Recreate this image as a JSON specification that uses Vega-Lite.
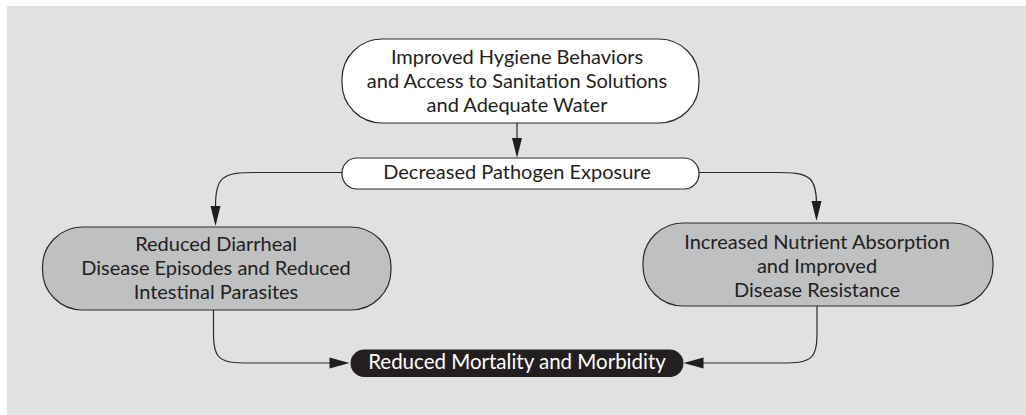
{
  "$schema": "https://vega.github.io/schema/vega-lite/v6.json",
  "width": 1026,
  "height": 415,
  "padding": 0,
  "autosize": {"type": "none"},
  "background": "#ffffff",
  "config": {"view": {"stroke": null}},
  "datasets": {
    "frame": [{"x": 0.7, "x2": 102.6, "y": 0.6, "y2": 41.5}],
    "nodes": [
      {"id": "top", "x": 34.2, "x2": 69.9, "y": 3.9, "y2": 12.3, "cx": 51.7, "cy": 5.75, "label": ["Improved Hygiene Behaviors", "and Access to Sanitation Solutions", "and Adequate Water"]},
      {"id": "mid", "x": 34.2, "x2": 69.9, "y": 15.8, "y2": 18.9, "cx": 51.7, "cy": 17.25, "label": ["Decreased Pathogen Exposure"]},
      {"id": "left", "x": 4.25, "x2": 39.1, "y": 22.7, "y2": 31.0, "cx": 21.6, "cy": 24.45, "label": ["Reduced Diarrheal", "Disease Episodes and Reduced", "Intestinal Parasites"]},
      {"id": "right", "x": 64.3, "x2": 99.3, "y": 22.3, "y2": 30.6, "cx": 81.7, "cy": 24.3, "label": ["Increased Nutrient Absorption", "and Improved", "Disease Resistance"]},
      {"id": "bottom", "x": 35.1, "x2": 68.3, "y": 35.0, "y2": 37.65, "cx": 51.7, "cy": 36.25, "label": ["Reduced Mortality and Morbidity"]}
    ],
    "edges": [
      {"edge": "a", "i": 0, "x": 51.7, "y": 12.3},
      {"edge": "a", "i": 1, "x": 51.7, "y": 14.0},
      {"edge": "b", "i": 0, "x": 34.2, "y": 17.25},
      {"edge": "b", "i": 1, "x": 29.55, "y": 17.25},
      {"edge": "b", "i": 2, "x": 25.55, "y": 17.25},
      {"edge": "b", "i": 3, "x": 21.55, "y": 17.25},
      {"edge": "b", "i": 4, "x": 21.55, "y": 21.25},
      {"edge": "c", "i": 0, "x": 69.9, "y": 17.25},
      {"edge": "c", "i": 1, "x": 73.65, "y": 17.25},
      {"edge": "c", "i": 2, "x": 77.65, "y": 17.25},
      {"edge": "c", "i": 3, "x": 81.65, "y": 17.25},
      {"edge": "c", "i": 4, "x": 81.65, "y": 21.0},
      {"edge": "d", "i": 0, "x": 21.35, "y": 31.0},
      {"edge": "d", "i": 1, "x": 21.35, "y": 32.8},
      {"edge": "d", "i": 2, "x": 21.35, "y": 36.3},
      {"edge": "d", "i": 3, "x": 24.85, "y": 36.3},
      {"edge": "d", "i": 4, "x": 28.35, "y": 36.3},
      {"edge": "d", "i": 5, "x": 33.2, "y": 36.3},
      {"edge": "e", "i": 0, "x": 81.7, "y": 30.6},
      {"edge": "e", "i": 1, "x": 81.7, "y": 32.8},
      {"edge": "e", "i": 2, "x": 81.7, "y": 36.3},
      {"edge": "e", "i": 3, "x": 78.2, "y": 36.3},
      {"edge": "e", "i": 4, "x": 74.7, "y": 36.3},
      {"edge": "e", "i": 5, "x": 70.0, "y": 36.3}
    ],
    "arrows": [
      {"dir": "down", "x": 51.7, "y": 14.8},
      {"dir": "down", "x": 21.55, "y": 21.6},
      {"dir": "down", "x": 81.65, "y": 21.1},
      {"dir": "right", "x": 33.95, "y": 36.3},
      {"dir": "left", "x": 69.35, "y": 36.3}
    ]
  },
  "encoding": {
    "x": {"field": "x", "type": "quantitative", "axis": null, "scale": {"domain": [0, 102.6], "range": [0, 1026], "zero": false, "nice": false}},
    "y": {"field": "y", "type": "quantitative", "axis": null, "scale": {"domain": [0, 41.5], "range": [0, 415], "zero": false, "nice": false}}
  },
  "layer": [
    {
      "data": {"name": "frame"},
      "mark": {"type": "rect", "fill": "#e0e1e3", "stroke": null},
      "encoding": {"x2": {"field": "x2"}, "y2": {"field": "y2"}}
    },
    {
      "data": {"name": "edges"},
      "mark": {"type": "line", "interpolate": "basis", "stroke": "#2a2a2a", "strokeWidth": 1.2},
      "encoding": {"detail": {"field": "edge"}, "order": {"field": "i", "type": "quantitative"}}
    },
    {
      "data": {"name": "arrows"},
      "mark": {"type": "point", "filled": true, "fill": "#1f1d1e", "stroke": null, "opacity": 1, "size": 400},
      "encoding": {
        "shape": {"field": "dir", "type": "nominal", "legend": null, "scale": {"domain": ["down", "right", "left"], "range": ["M-0.5,-1L0.5,-1L0,1Z", "M-1,-0.55L1,0L-1,0.55Z", "M1,-0.55L-1,0L1,0.55Z"]}}
      }
    },
    {
      "data": {"name": "nodes"},
      "transform": [{"filter": "datum.id === 'top'"}],
      "mark": {"type": "rect", "fill": "#ffffff", "stroke": "#2a2a2a", "strokeWidth": 1.2, "cornerRadius": 40},
      "encoding": {"x2": {"field": "x2"}, "y2": {"field": "y2"}}
    },
    {
      "data": {"name": "nodes"},
      "transform": [{"filter": "datum.id === 'mid'"}],
      "mark": {"type": "rect", "fill": "#ffffff", "stroke": "#2a2a2a", "strokeWidth": 1.2, "cornerRadius": 15},
      "encoding": {"x2": {"field": "x2"}, "y2": {"field": "y2"}}
    },
    {
      "data": {"name": "nodes"},
      "transform": [{"filter": "datum.id === 'left' || datum.id === 'right'"}],
      "mark": {"type": "rect", "fill": "#bfc0c2", "stroke": "#2a2a2a", "strokeWidth": 1.2, "cornerRadius": 40},
      "encoding": {"x2": {"field": "x2"}, "y2": {"field": "y2"}}
    },
    {
      "data": {"name": "nodes"},
      "transform": [{"filter": "datum.id === 'bottom'"}],
      "mark": {"type": "rect", "fill": "#231f20", "stroke": "#231f20", "strokeWidth": 1, "cornerRadius": 13},
      "encoding": {"x2": {"field": "x2"}, "y2": {"field": "y2"}}
    },
    {
      "data": {"name": "nodes"},
      "transform": [{"filter": "datum.id !== 'bottom'"}],
      "mark": {"type": "text", "font": "Lato", "fontSize": 20, "lineHeight": 24, "align": "center", "baseline": "middle", "fill": "#231f20"},
      "encoding": {
        "x": {"field": "cx", "type": "quantitative"},
        "y": {"field": "cy", "type": "quantitative"},
        "text": {"field": "label"}
      }
    },
    {
      "data": {"name": "nodes"},
      "transform": [{"filter": "datum.id === 'bottom'"}],
      "mark": {"type": "text", "font": "Lato", "fontSize": 20.5, "lineHeight": 24, "align": "center", "baseline": "middle", "fill": "#ffffff"},
      "encoding": {
        "x": {"field": "cx", "type": "quantitative"},
        "y": {"field": "cy", "type": "quantitative"},
        "text": {"field": "label"}
      }
    }
  ]
}
